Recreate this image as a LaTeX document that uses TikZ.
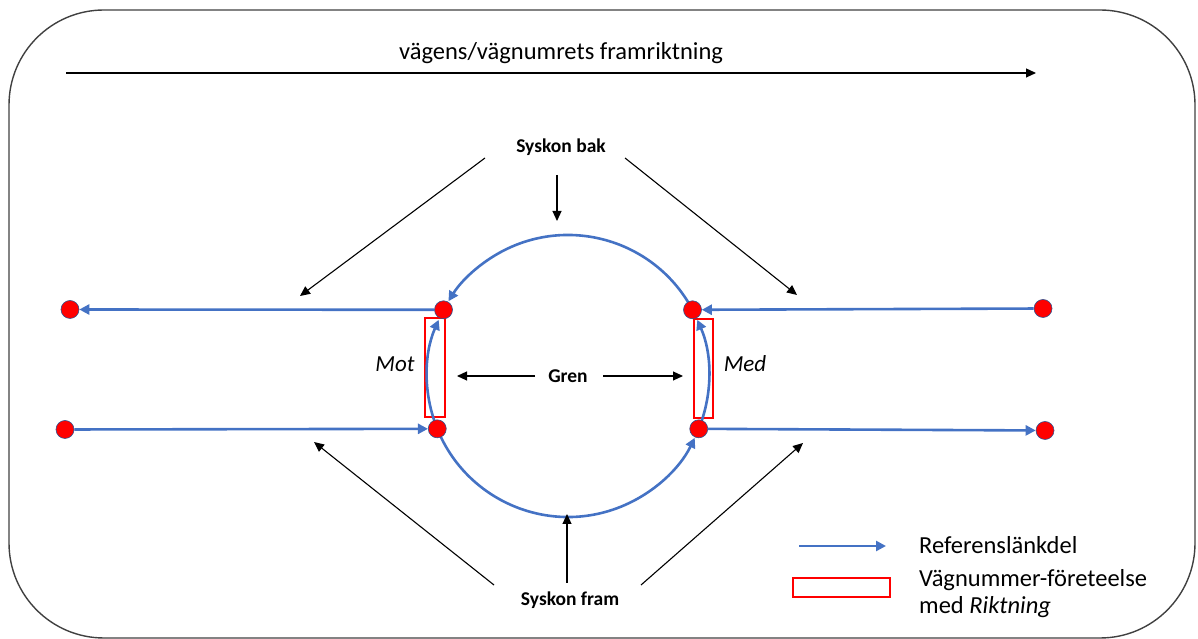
\documentclass[tikz,border=0pt]{standalone}
\usepackage{fontspec}
\setmainfont{Carlito}
\usetikzlibrary{arrows.meta,calc}
\definecolor{lnblue}{HTML}{4472C4}
\definecolor{dotedge}{HTML}{2F528F}
\definecolor{framegray}{HTML}{404040}
\begin{document}
\begin{tikzpicture}[x=1pt,y=1pt,
  blueline/.style={draw=lnblue,line width=2.6pt,-{Triangle[length=10pt,width=10pt]}},
  blkarrow/.style={draw=black,line width=1.1pt,-{Triangle[length=10pt,width=9pt]}},
  dot/.style={circle,fill=red,draw=dotedge,line width=0.6pt,minimum size=18pt,inner sep=0pt},
  redbox/.style={draw=red,line width=2pt},
  lbl/.style={font=\fontsize{19.5}{22}\selectfont\bfseries,inner sep=1pt},
  txt/.style={font=\fontsize{24.5}{28}\selectfont,inner sep=0pt}]
\useasboundingbox (0,0) rectangle (1198,639);
% frame
\draw[framegray,line width=1.4pt,rounded corners=95pt] (9,1) rectangle (1195,629);
% title arrow
\node[txt] (title) at (561,586) {vägens/vägnumrets framriktning};
\coordinate (ta) at (66,566);
\coordinate (tb) at (1036,566);
\draw[blkarrow] (ta) -- (tb);
% circle geometry
\coordinate (C) at (568,263);
\coordinate (ltp) at ($(C)+(152:141)$);
\coordinate (lbp) at ($(C)+(202:141)$);
\coordinate (rtp) at ($(C)+(28:141)$);
\coordinate (rbp) at ($(C)+(-22:141)$);
% red boxes
\draw[redbox] (425,321) rectangle (445,222);
\draw[redbox] (694,320) rectangle (713,221);
% arcs
\draw[blueline] (rtp) arc[start angle=28,end angle=148,radius=141];
\draw[blueline] (lbp) arc[start angle=202,end angle=334,radius=141];
\draw[blueline] (lbp) arc[start angle=202,end angle=156.5,radius=141];
\draw[blueline] (rbp) arc[start angle=-22,end angle=23.5,radius=141];
% dots
\node[dot] (lt) at (ltp) {};
\node[dot] (lb) at (lbp) {};
\node[dot] (rt) at (rtp) {};
\node[dot] (rb) at (rbp) {};
\node[dot] (fl1) at (70,329.5) {};
\node[dot] (fl2) at (65,209.5) {};
\node[dot] (fr1) at (1043,330.5) {};
\node[dot] (fr2) at (1045,208.5) {};
% horizontal links
\draw[blueline] (lt) -- (fl1);
\draw[blueline] (fl2) -- (lb);
\draw[blueline] (fr1) -- (rt);
\draw[blueline] (rb) -- (fr2);
% Syskon bak
\node[lbl] (sb) at (561,492) {Syskon bak};
\coordinate (sb1) at (485,481);
\coordinate (sb1e) at (300,343);
\coordinate (sb2) at (557,464);
\coordinate (sb2e) at (557,418);
\coordinate (sb3) at (625,481);
\coordinate (sb3e) at (797,344);
\draw[blkarrow] (sb1) -- (sb1e);
\draw[blkarrow] (sb2) -- (sb2e);
\draw[blkarrow] (sb3) -- (sb3e);
% Syskon fram
\node[lbl] (sf) at (570,39) {Syskon fram};
\coordinate (sf1) at (494,54);
\coordinate (sf1e) at (314,197);
\coordinate (sf2) at (567,56);
\coordinate (sf2e) at (567,125);
\coordinate (sf3) at (641,54);
\coordinate (sf3e) at (803,196);
\draw[blkarrow] (sf1) -- (sf1e);
\draw[blkarrow] (sf2) -- (sf2e);
\draw[blkarrow] (sf3) -- (sf3e);
% Gren
\node[lbl] (gren) at (568,263) {Gren};
\coordinate (g1) at (535,263);
\coordinate (g1e) at (457,263);
\coordinate (g2) at (603,263);
\coordinate (g2e) at (683,263);
\draw[blkarrow] (g1) -- (g1e);
\draw[blkarrow] (g2) -- (g2e);
% Mot / Med
\node[txt,font=\fontsize{23}{26}\selectfont\itshape] (mot) at (395,275) {Mot};
\node[txt,font=\fontsize{23}{26}\selectfont\itshape] (med) at (745,275) {Med};
% legend
\coordinate (la) at (799,93);
\coordinate (lb2) at (886,93);
\draw[blueline] (la) -- (lb2);
\draw[redbox] (793,61) rectangle (890,42);
\node[txt,anchor=west] (l1) at (919,94) {Referenslänkdel};
\node[txt,anchor=west] (l2) at (919,59) {Vägnummer-företeelse};
\node[txt,anchor=west] (l3) at (919,32) {med \textit{Riktning}};
\end{tikzpicture}
\end{document}
